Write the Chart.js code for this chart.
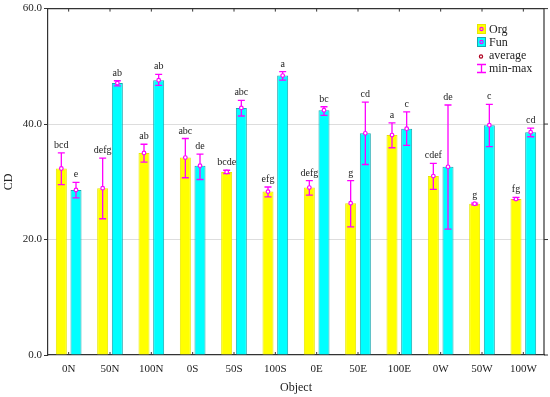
<!DOCTYPE html>
<html>
<head>
<meta charset="utf-8">
<script src="https://cdn.jsdelivr.net/npm/chart.js@4/dist/chart.umd.min.js"></script>
<style>
html,body{margin:0;padding:0;background:#fff;}
#wrap{width:550px;height:397px;position:relative;}
</style>
</head>
<body>
<div id="wrap"><canvas id="c" width="550" height="397"></canvas></div>
<script>
const categories = ['0N','50N','100N','0S','50S','100S','0E','50E','100E','0W','50W','100W'];
const orgMean = [32.3,28.9,35.0,34.2,31.7,28.3,29.0,26.3,38.1,31.0,26.2,27.0];
const orgMin  = [29.5,23.6,33.4,30.7,31.4,27.4,27.7,22.2,35.9,28.7,26.0,26.9];
const orgMax  = [35.0,34.1,36.5,37.5,32.0,29.1,30.2,30.2,40.2,33.2,26.3,27.3];
const funMean = [28.6,47.1,47.6,32.8,42.8,48.4,42.4,38.4,39.2,32.6,39.8,38.6];
const funMin  = [27.2,46.6,46.7,30.4,41.4,47.6,41.5,33.0,36.3,21.8,36.1,37.8];
const funMax  = [29.9,47.5,48.6,34.8,44.1,49.1,43.0,43.8,42.1,43.3,43.4,39.3];
const orgLetters = ['bcd','defg','ab','abc','bcde','efg','defg','g','a','cdef','g','fg'];
const funLetters = ['e','ab','ab','de','abc','a','bc','cd','c','de','c','cd'];
const yTicks = [0,20,40,60];

const FONT = '"Liberation Serif","Times New Roman",serif';
const TXT = '#222';
const MAG = '#FF00FF';

const errs = [{min:orgMin,max:orgMax,mean:orgMean,letters:orgLetters},{min:funMin,max:funMax,mean:funMean,letters:funLetters}];

const decor = {
  id:'decor',
  afterDatasetsDraw(chart){
    const ctx = chart.ctx, y = chart.scales.y, x = chart.scales.x, a = chart.chartArea;
    ctx.save();
    // error bars
    errs.forEach((e,di)=>{
      const meta = chart.getDatasetMeta(di);
      meta.data.forEach((bar,i)=>{
        const cx = bar.x;
        const yt = y.getPixelForValue(e.max[i]);
        const yb = y.getPixelForValue(e.min[i]);
        const ym = y.getPixelForValue(e.mean[i]);
        ctx.strokeStyle = MAG; ctx.lineWidth = 1.3;
        ctx.beginPath();
        ctx.moveTo(cx,yt); ctx.lineTo(cx,yb);
        ctx.moveTo(cx-3.5,yt); ctx.lineTo(cx+3.5,yt);
        ctx.moveTo(cx-3.5,yb); ctx.lineTo(cx+3.5,yb);
        ctx.stroke();
        ctx.beginPath(); ctx.arc(cx,ym,1.8,0,Math.PI*2);
        ctx.fillStyle='#fff'; ctx.fill(); ctx.lineWidth=1.2; ctx.stroke();
        // letters
        ctx.fillStyle = TXT; ctx.font = '10px '+FONT;
        ctx.textAlign='center'; ctx.textBaseline='alphabetic';
        ctx.fillText(e.letters[i], cx, yt-5);
      });
    });
    // box
    ctx.strokeStyle = '#333'; ctx.lineWidth = 1.2;
    ctx.beginPath();
    ctx.moveTo(a.left,a.top); ctx.lineTo(a.right,a.top); ctx.lineTo(a.right,a.bottom);
    ctx.stroke();
    // ticks at category centres (top and bottom, inside)
    ctx.lineWidth = 1;
    categories.forEach((c,i)=>{
      const px = x.getPixelForValue(i);
      ctx.beginPath();
      ctx.moveTo(px,a.top); ctx.lineTo(px,a.top+3);
      ctx.moveTo(px,a.bottom); ctx.lineTo(px,a.bottom-3);
      ctx.stroke();
    });
    // right axis ticks
    yTicks.forEach(v=>{
      const py = y.getPixelForValue(v);
      ctx.beginPath(); ctx.moveTo(a.right,py); ctx.lineTo(a.right+4,py); ctx.stroke();
    });
    // legend
    const lx = 477, tx = 489;
    ctx.font = '12px '+FONT; ctx.textAlign='left'; ctx.textBaseline='middle'; 
    const items = [{t:'Org',c:'#FFFF00',b:'#E6E600',y:29},{t:'Fun',c:'#00FFFF',b:'#1AA8B0',y:42}];
    items.forEach(it=>{
      ctx.fillStyle=it.c; ctx.fillRect(lx,it.y-4.5,9,9);
      ctx.strokeStyle=it.b; ctx.lineWidth=1; ctx.strokeRect(lx+0.5,it.y-4.5,8,9);
      ctx.beginPath(); ctx.arc(lx+4.5,it.y,1.6,0,Math.PI*2);
      ctx.strokeStyle=MAG; ctx.lineWidth=1.2; ctx.stroke();
      ctx.fillStyle=TXT; ctx.fillText(it.t,tx,it.y+0.5);
    });
    ctx.beginPath(); ctx.arc(lx+4,56.5,1.6,0,Math.PI*2);
    ctx.strokeStyle='#B00020'; ctx.lineWidth=1.2; ctx.stroke();
    ctx.fillStyle=TXT; ctx.fillText('average',tx,56);
    ctx.strokeStyle=MAG; ctx.lineWidth=1.3;
    ctx.beginPath();
    ctx.moveTo(lx+4.5,64.5); ctx.lineTo(lx+4.5,72.5);
    ctx.moveTo(lx,64.5); ctx.lineTo(lx+9,64.5);
    ctx.moveTo(lx,72.5); ctx.lineTo(lx+9,72.5);
    ctx.stroke();
    ctx.fillStyle=TXT; ctx.fillText('min-max',tx,69);
    ctx.restore();
  }
};

new Chart(document.getElementById('c'),{
  type:'bar',
  data:{
    labels:categories,
    datasets:[
      {label:'Org',data:orgMean,backgroundColor:'#FFFF00',borderColor:'#E8E800',borderWidth:1,categoryPercentage:0.71,barPercentage:0.75},
      {label:'Fun',data:funMean,backgroundColor:'#00FFFF',borderColor:'#1AA8B0',borderWidth:1,categoryPercentage:0.71,barPercentage:0.75}
    ]
  },
  options:{
    responsive:false,
    animation:false,
    layout:{padding:{top:7,right:6,left:0,bottom:0}},
    plugins:{legend:{display:false},tooltip:{enabled:false}},
    scales:{
      x:{
        grid:{display:false},
        border:{display:true,color:'#333',width:1.2},
        ticks:{font:{family:FONT,size:11},color:TXT,padding:0,maxRotation:0},
        title:{display:true,text:'Object',font:{family:FONT,size:12},color:TXT,padding:{top:0,bottom:2}},
        afterFit(s){s.height=42;}
      },
      y:{
        min:0,max:60,
        afterBuildTicks(s){s.ticks = yTicks.map(v=>({value:v}));},
        grid:{color:(c)=> (c.tick && (c.tick.value===0||c.tick.value===60)) ? 'rgba(0,0,0,0)' : '#DDDDDD',tickColor:'#333',tickLength:4,lineWidth:1},
        border:{display:true,color:'#333',width:1.2},
        ticks:{font:{family:FONT,size:11},color:TXT,padding:2,callback:(v)=>Number(v).toFixed(1)},
        title:{display:true,text:'CD',font:{family:FONT,size:12},color:TXT,padding:{top:2,bottom:0}},
        afterFit(s){s.width=48;}
      }
    }
  },
  plugins:[decor]
});
</script>
</body>
</html>
